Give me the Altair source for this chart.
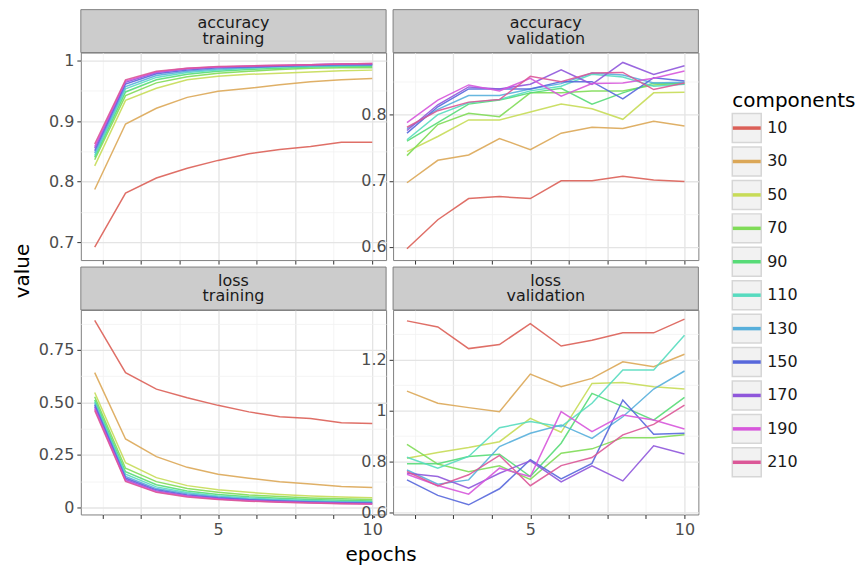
import altair as alt
import pandas as pd

epochs = [1, 2, 3, 4, 5, 6, 7, 8, 9, 10]
components = ["10", "30", "50", "70", "90", "110", "130", "150", "170", "190", "210"]
palette = ["#DB5F57", "#DBA757", "#C7DB57", "#7FDB57", "#57DB77", "#57DBBF",
           "#57AFDB", "#5767DB", "#8F57DB", "#D757DB", "#DB5797"]

# one row per component (10 ... 210), one value per epoch
acc_train = [
    [0.692, 0.781, 0.806, 0.822, 0.835, 0.846, 0.853, 0.858, 0.865, 0.865],
    [0.787, 0.895, 0.921, 0.939, 0.949, 0.954, 0.960, 0.965, 0.968, 0.970],
    [0.826, 0.934, 0.954, 0.968, 0.974, 0.977, 0.979, 0.981, 0.983, 0.984],
    [0.836, 0.942, 0.963, 0.973, 0.979, 0.982, 0.985, 0.987, 0.988, 0.988],
    [0.840, 0.948, 0.968, 0.977, 0.982, 0.985, 0.987, 0.989, 0.990, 0.990],
    [0.843, 0.953, 0.972, 0.980, 0.984, 0.987, 0.989, 0.990, 0.991, 0.992],
    [0.847, 0.957, 0.975, 0.982, 0.986, 0.988, 0.990, 0.991, 0.992, 0.993],
    [0.851, 0.961, 0.978, 0.984, 0.988, 0.989, 0.991, 0.992, 0.993, 0.993],
    [0.855, 0.964, 0.980, 0.986, 0.989, 0.990, 0.991, 0.993, 0.994, 0.994],
    [0.858, 0.966, 0.981, 0.987, 0.989, 0.991, 0.992, 0.993, 0.994, 0.995],
    [0.862, 0.968, 0.982, 0.987, 0.990, 0.991, 0.992, 0.993, 0.994, 0.995],
]
acc_val = [
    [0.597, 0.641, 0.673, 0.676, 0.673, 0.700, 0.700, 0.707, 0.701, 0.699],
    [0.697, 0.731, 0.739, 0.764, 0.747, 0.772, 0.781, 0.779, 0.790, 0.783],
    [0.744, 0.767, 0.792, 0.792, 0.804, 0.816, 0.809, 0.793, 0.833, 0.834],
    [0.738, 0.785, 0.802, 0.797, 0.833, 0.833, 0.836, 0.836, 0.845, 0.848],
    [0.760, 0.788, 0.816, 0.822, 0.833, 0.840, 0.816, 0.833, 0.848, 0.846],
    [0.762, 0.800, 0.818, 0.823, 0.836, 0.843, 0.861, 0.857, 0.843, 0.846],
    [0.779, 0.808, 0.829, 0.829, 0.839, 0.847, 0.863, 0.860, 0.848, 0.849],
    [0.772, 0.812, 0.839, 0.839, 0.839, 0.850, 0.850, 0.824, 0.856, 0.851],
    [0.776, 0.815, 0.842, 0.839, 0.846, 0.868, 0.846, 0.879, 0.861, 0.874],
    [0.788, 0.822, 0.845, 0.836, 0.855, 0.828, 0.847, 0.848, 0.855, 0.866],
    [0.781, 0.806, 0.819, 0.823, 0.858, 0.850, 0.863, 0.864, 0.838, 0.848],
]
loss_train = [
    [0.890, 0.642, 0.563, 0.522, 0.486, 0.455, 0.432, 0.424, 0.403, 0.400],
    [0.642, 0.326, 0.242, 0.191, 0.158, 0.139, 0.123, 0.112, 0.100, 0.095],
    [0.547, 0.213, 0.142, 0.104, 0.084, 0.072, 0.062, 0.055, 0.050, 0.046],
    [0.527, 0.187, 0.123, 0.090, 0.072, 0.060, 0.052, 0.045, 0.041, 0.038],
    [0.512, 0.170, 0.108, 0.079, 0.062, 0.051, 0.044, 0.038, 0.034, 0.031],
    [0.503, 0.158, 0.098, 0.071, 0.055, 0.045, 0.038, 0.033, 0.029, 0.027],
    [0.495, 0.148, 0.090, 0.065, 0.050, 0.040, 0.034, 0.029, 0.026, 0.024],
    [0.487, 0.140, 0.084, 0.060, 0.046, 0.037, 0.031, 0.026, 0.023, 0.021],
    [0.478, 0.133, 0.079, 0.056, 0.043, 0.034, 0.028, 0.024, 0.021, 0.019],
    [0.470, 0.128, 0.075, 0.053, 0.040, 0.032, 0.026, 0.022, 0.019, 0.017],
    [0.462, 0.124, 0.072, 0.050, 0.038, 0.030, 0.025, 0.021, 0.018, 0.016],
]
loss_val = [
    [1.353, 1.329, 1.244, 1.260, 1.342, 1.254, 1.277, 1.306, 1.306, 1.360],
    [1.077, 1.029, 1.012, 0.996, 1.144, 1.094, 1.127, 1.192, 1.173, 1.222],
    [0.813, 0.836, 0.855, 0.878, 0.970, 0.915, 1.107, 1.111, 1.094, 1.085],
    [0.868, 0.790, 0.760, 0.783, 0.730, 0.833, 0.850, 0.894, 0.894, 0.905],
    [0.791, 0.791, 0.820, 0.829, 0.741, 0.872, 1.068, 1.016, 0.963, 1.052],
    [0.817, 0.774, 0.820, 0.933, 0.957, 0.937, 1.029, 1.160, 1.160, 1.297],
    [0.767, 0.711, 0.728, 0.859, 0.911, 0.944, 0.891, 0.976, 1.085, 1.156],
    [0.728, 0.667, 0.630, 0.693, 0.807, 0.732, 0.793, 1.042, 0.907, 0.911],
    [0.754, 0.741, 0.695, 0.754, 0.803, 0.720, 0.783, 0.724, 0.862, 0.830],
    [0.750, 0.706, 0.672, 0.774, 0.741, 0.996, 0.918, 0.983, 0.963, 0.928],
    [0.761, 0.704, 0.748, 0.824, 0.705, 0.784, 0.816, 0.905, 0.946, 1.022],
]

x_ticks = [1.25, 2.5, 3.75, 5, 6.25, 7.5, 8.75, 10]

PW = 306
STRIP_H = 43
FONT = "DejaVu Sans"
color_scale = alt.Scale(domain=components, range=palette)

MAJ_GRID = "#E4E4E4"
MIN_GRID = "#F1F1F1"


def long_frame(values):
    rows = []
    for comp, series in zip(components, values):
        for e, v in zip(epochs, series):
            rows.append({"epochs": e, "value": v, "components": comp})
    return pd.DataFrame(rows)


def x_axis(show_labels):
    test = "datum.value % 2.5 == 0"
    return alt.Axis(
        values=x_ticks, title=None, labels=show_labels,
        labelExpr="datum.value == 5 || datum.value == 10 ? format(datum.value, 'd') : ''",
        labelFontSize=16, labelColor="#4D4D4D", labelPadding=3, labelFont=FONT,
        labelFlush=False, labelOverlap=False,
        tickColor="#333333", tickSize=4, tickWidth=1, domain=False,
        grid=True,
        gridColor={"condition": {"test": test, "value": MAJ_GRID}, "value": MIN_GRID},
        gridWidth={"condition": {"test": test, "value": 1.3}, "value": 0.8},
    )


def y_axis(majors, labels, minors):
    vals = sorted(majors + minors)
    test = " || ".join(f"abs(datum.value - ({m})) < 1e-6" for m in majors)
    expr = "".join(f"abs(datum.value - ({m})) < 1e-6 ? '{l}' : " for m, l in zip(majors, labels)) + "''"
    return alt.Axis(
        values=vals, title=None, labelExpr=expr,
        labelFontSize=16, labelColor="#4D4D4D", labelPadding=3, labelFont=FONT,
        labelFlush=False, labelOverlap=False,
        tickColor={"condition": {"test": test, "value": "#333333"}, "value": "transparent"},
        tickSize=4, tickWidth=1, domain=False, grid=True,
        gridColor={"condition": {"test": test, "value": MAJ_GRID}, "value": MIN_GRID},
        gridWidth={"condition": {"test": test, "value": 1.3}, "value": 0.8},
    )


def lines(values, domain, majors, labels, minors, show_x):
    df = long_frame(values)
    return alt.Chart(df).mark_line(strokeWidth=1.5, opacity=0.9).encode(
        x=alt.X("epochs:Q", scale=alt.Scale(domain=[0.55, 10.45], nice=False, zero=False),
                axis=x_axis(show_x)),
        y=alt.Y("value:Q", scale=alt.Scale(domain=domain, nice=False, zero=False),
                axis=y_axis(majors, labels, minors)),
        color=alt.Color("components:N", scale=color_scale, legend=None),
    )


def strip(top_line, bottom_line):
    base = alt.Chart(pd.DataFrame({"a": [top_line], "b": [bottom_line]}))
    rect = base.mark_rect(fill="#CCCCCC", stroke="#7F7F7F", strokeWidth=1).encode(
        x=alt.value(0), x2=alt.value(PW), y=alt.value(-STRIP_H), y2=alt.value(0))
    t1 = base.mark_text(fontSize=16, font=FONT, color="#1A1A1A",
                        baseline="middle", align="center").encode(
        x=alt.value(PW / 2), y=alt.value(-29.5), text="a:N")
    t2 = base.mark_text(fontSize=16, font=FONT, color="#1A1A1A",
                        baseline="middle", align="center").encode(
        x=alt.value(PW / 2), y=alt.value(-13.5), text="b:N")
    return [rect, t1, t2]


def free_text(txt, x, y, size=20, angle=0, align="center"):
    return alt.Chart(pd.DataFrame({"t": [txt]})).mark_text(
        fontSize=size, font=FONT, color="#000000", baseline="middle", align=align, angle=angle
    ).encode(x=alt.value(x), y=alt.value(y), text="t:N")


# legend drawn in the top-right cell, to the right of the panel
leg_df = pd.DataFrame({"components": components})
LX = PW + 34
ly = alt.Y("components:N", sort=components, axis=None,
           scale=alt.Scale(type="point", range=[75.7, 410.7], padding=0))
leg_base = alt.Chart(leg_df)
leg_box = leg_base.mark_square(size=841, fill="#F2F2F2", stroke="#D6D6D6", strokeWidth=1.5,
                               opacity=1).encode(x=alt.value(LX + 14.5), y=ly)
leg_line = leg_base.mark_rule(strokeWidth=3.5).encode(
    x=alt.value(LX + 0.5), x2=alt.value(LX + 28.5), y=ly,
    color=alt.Color("components:N", scale=color_scale, legend=None))
leg_text = leg_base.mark_text(align="left", baseline="middle", fontSize=16, font=FONT,
                              color="#1A1A1A").encode(x=alt.value(LX + 35), y=ly, text="components:N")
leg_title = free_text("components", LX, 49, align="left")

c_at = alt.layer(
    lines(acc_train, [0.6705, 1.013], [0.7, 0.8, 0.9, 1.0], ["0.7", "0.8", "0.9", "1"],
          [0.75, 0.85, 0.95], False),
    *strip("accuracy", "training"),
    free_text("value", -58, 219, angle=270),
).properties(width=PW, height=208)

c_av = alt.layer(
    lines(acc_val, [0.580, 0.894], [0.6, 0.7, 0.8], ["0.6", "0.7", "0.8"],
          [0.65, 0.75, 0.85], False),
    *strip("accuracy", "validation"),
    leg_box, leg_line, leg_text, leg_title,
).resolve_scale(y="independent").properties(width=PW, height=208)

c_lt = alt.layer(
    lines(loss_train, [-0.0332, 0.940], [0.0, 0.25, 0.5, 0.75], ["0", "0.25", "0.50", "0.75"],
          [0.125, 0.375, 0.625, 0.875], True),
    *strip("loss", "training"),
    free_text("epochs", 301, 246),
).properties(width=PW, height=205)

c_lv = alt.layer(
    lines(loss_val, [0.592, 1.396], [0.6, 0.8, 1.0, 1.2], ["0.6", "0.8", "1", "1.2"],
          [0.7, 0.9, 1.1, 1.3], True),
    *strip("loss", "validation"),
).properties(width=PW, height=205)

chart = alt.concat(
    c_at, c_av, c_lt, c_lv, columns=2,
    spacing={"row": 7 + STRIP_H, "column": 7}, bounds="flush",
).resolve_scale(x="independent", y="independent").properties(
    padding={"left": 4, "top": 0, "right": 0, "bottom": 0}
).configure(font=FONT).configure_view(stroke="#7F7F7F", strokeWidth=1)

chart.save("out.html", embed_options={"renderer": "svg", "actions": False})
